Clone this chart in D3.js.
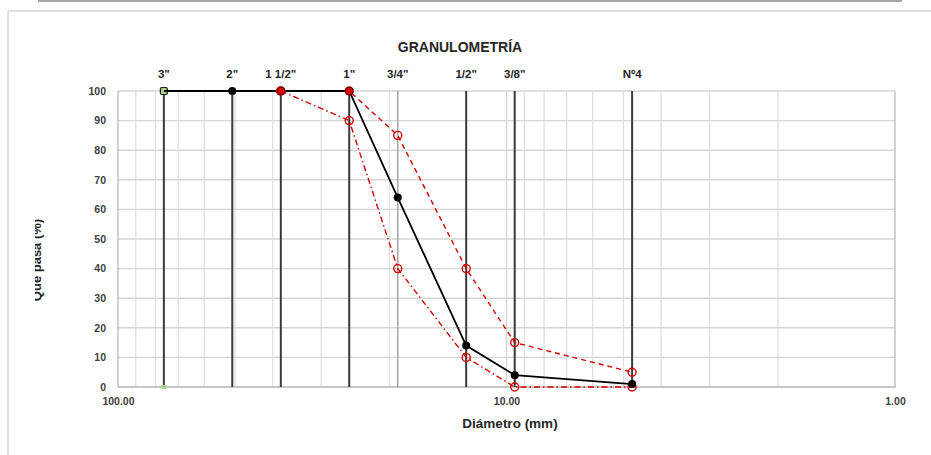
<!DOCTYPE html>
<html><head><meta charset="utf-8">
<script src="https://cdn.jsdelivr.net/npm/d3@7"></script>
<style>
html,body{margin:0;padding:0;background:#fff;}
svg{display:block;font-family:"Liberation Sans Narrow","Liberation Sans",Arial,sans-serif;}
</style></head><body>
<svg id="c" width="931" height="455"></svg>
<script>
const sieveLabels = ['3"','2"','1 1/2"','1"','3/4"','1/2"','3/8"','Nº4'];
const sieveSizes = [76.2,50.8,38.1,25.4,19.05,12.7,9.525,4.75];
const passing = [100,100,100,100,64,14,4,1];
const upperLimit = [null,null,100,100,85,40,15,5];
const lowerLimit = [null,null,100,90,40,10,0,0];
const yTicks = [0,10,20,30,40,50,60,70,80,90,100];
const xTickValues = [100,10,1];
const minorGrid = [90,80,70,60,50,40,30,20,9,8,7,6,5,4,3,2];

const svg = d3.select('#c');
const L=118,R=895,T=91,B=387;
const x = d3.scaleLog().domain([100,1]).range([L,R]);
const y = d3.scaleLinear().domain([0,100]).range([B,T]);
const txt = '#262626';

// outer frame bits
svg.append('line').attr('x1',38).attr('x2',902).attr('y1',1).attr('y2',1).attr('stroke','#a6a6a6').attr('stroke-width',2);
svg.append('path').attr('d','M8,455V11H931').attr('fill','none').attr('stroke','#e0e0e0').attr('stroke-width',2);

// grid
const g = svg.append('g');
g.selectAll('.mg').data(minorGrid).enter().append('line')
  .attr('x1',d=>x(d)).attr('x2',d=>x(d)).attr('y1',T).attr('y2',B)
  .attr('stroke','#e0e0e0').attr('stroke-width',1.3);
g.selectAll('.hg').data(yTicks).enter().append('line')
  .attr('x1',L).attr('x2',R).attr('y1',d=>y(d)).attr('y2',d=>y(d))
  .attr('stroke','#d6d6d6').attr('stroke-width',1.4);
g.selectAll('.xg').data([10]).enter().append('line')
  .attr('x1',d=>x(d)).attr('x2',d=>x(d)).attr('y1',T).attr('y2',B)
  .attr('stroke','#d6d6d6').attr('stroke-width',1.4);
svg.append('path').attr('d',`M${L},${T}V${B}H${R}V${T}`).attr('fill','none').attr('stroke','#bfbfbf').attr('stroke-width',1.4);

// y axis
const ya = svg.append('g').attr('transform',`translate(${L-12},0)`)
  .call(d3.axisLeft(y).tickValues(yTicks).tickSize(0).tickPadding(0));
ya.select('.domain').remove();
ya.selectAll('text').attr('font-size',10.5).attr('font-weight','bold').attr('fill','#404040').attr('font-family','Liberation Sans Narrow, Liberation Sans, sans-serif');

// x axis
const xa = svg.append('g').attr('transform',`translate(0,${B+8})`)
  .call(d3.axisBottom(x).tickValues(xTickValues).tickFormat(d3.format('.2f')).tickSize(0).tickPadding(3));
xa.select('.domain').remove();
xa.selectAll('text').attr('font-size',10.5).attr('font-weight','bold').attr('fill','#404040').attr('font-family','Liberation Sans Narrow, Liberation Sans, sans-serif');

// sieve vertical lines
svg.selectAll('.sv').data(sieveSizes).enter().append('line')
  .attr('x1',d=>x(d)).attr('x2',d=>x(d)).attr('y1',y(100)).attr('y2',y(0))
  .attr('stroke',(d,i)=>i===4?'#a0a0a0':'#3a3a3a').attr('stroke-width',(d,i)=>i===4?1.4:2);
// sieve labels
svg.selectAll('.sl').data(sieveSizes).enter().append('text')
  .attr('x',d=>x(d)).attr('y',78).attr('text-anchor','middle')
  .attr('font-size',11.5).attr('font-weight','bold').attr('fill',txt)
  .text((d,i)=>sieveLabels[i]);

// green marker at 3"
svg.append('rect').attr('x',x(sieveSizes[0])-3.5).attr('y',y(100)-3.5).attr('width',7).attr('height',7).attr('rx',1.5)
  .attr('fill','#a9d18e').attr('stroke','#1a1a1a').attr('stroke-width',1.2);
svg.append('rect').attr('x',x(sieveSizes[0])-2.5).attr('y',y(0)-2).attr('width',5).attr('height',4)
  .attr('fill','#a9d18e');

const red = '#d40000';
function series(vals){ return sieveSizes.map((s,i)=>({s,v:vals[i]})).filter(d=>d.v!==null); }
const line = d3.line().x(d=>x(d.s)).y(d=>y(d.v));

const up = series(upperLimit), lo = series(lowerLimit), pa = series(passing);
svg.append('path').datum(up).attr('d',line).attr('fill','none').attr('stroke',red).attr('stroke-width',1.4).attr('stroke-dasharray','5,4');
svg.append('path').datum(lo).attr('d',line).attr('fill','none').attr('stroke',red).attr('stroke-width',1.4).attr('stroke-dasharray','6,3,1.5,3');
svg.append('path').datum(pa).attr('d',line).attr('fill','none').attr('stroke','#000').attr('stroke-width',1.8);

[up,lo].forEach(s=>{
  svg.selectAll(null).data(s).enter().append('circle')
    .attr('cx',d=>x(d.s)).attr('cy',d=>y(d.v)).attr('r',4)
    .attr('fill','none').attr('stroke',red).attr('stroke-width',1.4);
});
svg.selectAll(null).data(pa.slice(1)).enter().append('circle')
  .attr('cx',d=>x(d.s)).attr('cy',d=>y(d.v)).attr('r',4).attr('fill','#000');
svg.selectAll(null).data(up.slice(0,2)).enter().append('circle')
  .attr('cx',d=>x(d.s)).attr('cy',d=>y(d.v)).attr('r',3.6).attr('fill',red);

// titles
svg.append('text').attr('x',460).attr('y',52).attr('text-anchor','middle')
  .attr('font-size',14).attr('font-weight','bold').attr('fill',txt).text('GRANULOMETRÍA');
svg.append('text').attr('x',510).attr('y',428).attr('text-anchor','middle')
  .attr('font-size',13.5).attr('font-weight','bold').attr('fill',txt).text('Diámetro (mm)');
const cp = svg.append('defs').append('clipPath').attr('id','yc');
cp.append('rect').attr('x',35).attr('y',150).attr('width',20).attr('height',200);
svg.append('g').attr('clip-path','url(#yc)')
  .append('text').attr('transform','translate(41,260) rotate(-90)')
  .attr('text-anchor','middle').attr('font-size',13).attr('font-weight','bold').attr('fill',txt).text('Que pasa (%)');
</script></body></html>
